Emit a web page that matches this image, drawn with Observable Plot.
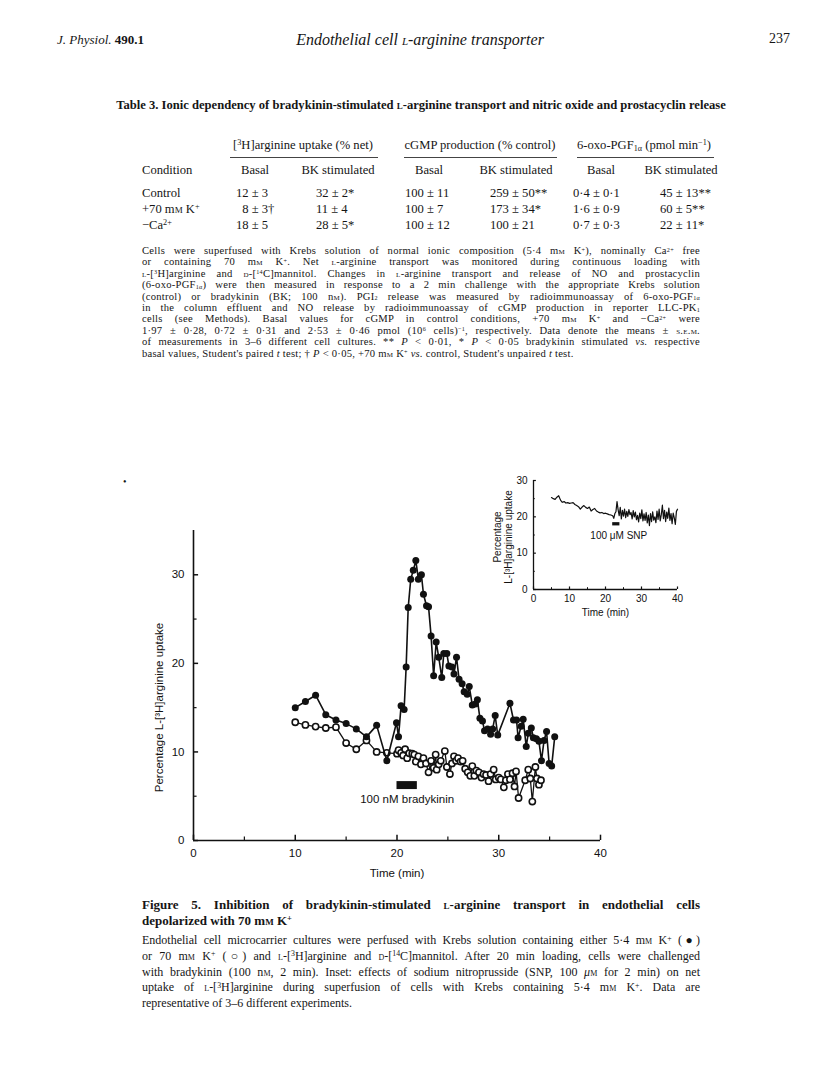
<!DOCTYPE html>
<html><head><meta charset="utf-8">
<script src="https://cdn.jsdelivr.net/npm/d3@7"></script>
<script src="https://cdn.jsdelivr.net/npm/@observablehq/plot@0.6"></script>
<style>
html,body{margin:0;padding:0;background:#fff;}
body{width:816px;height:1088px;position:relative;overflow:hidden;font-family:"Liberation Serif","Times New Roman",serif;color:#151515;}
.abs{position:absolute;white-space:nowrap;}
.sc{font-variant:small-caps;}
sup,sub{font-size:65%;line-height:0;position:relative;vertical-align:baseline;}
sup{top:-0.45em;} sub{top:0.28em;}
.note sub{font-size:58%;top:0.12em;}
.note sup{font-size:58%;top:-0.4em;}
.jl{position:absolute;text-align:justify;text-align-last:justify;white-space:normal;}
.ll{position:absolute;text-align:left;white-space:nowrap;}
.rule{position:absolute;height:0;border-top:1.2px solid #444;}
#main,#inset{position:absolute;}
#main{left:130px;top:520px;}
#inset{left:480px;top:465px;}
</style></head><body>
<div id="page"></div>
<div id="main"></div>
<div id="inset"></div>
<script>
// ---------- Table 3 data ----------
const tableGroups = ["[<sup>3</sup>H]arginine uptake (% net)", "cGMP production (% control)", "6-oxo-PGF<sub>1α</sub> (pmol min<sup>−1</sup>)"];
const tableSubHeaders = ["Basal", "BK stimulated"];
const tableConditions = ["Control", "+70 m<span class='sc'>m</span> K<sup>+</sup>", "−Ca<sup>2+</sup>"];
const uptakeBasal = ["12 ± 3", "\u20078 ± 3†", "18 ± 5"];
const uptakeBK = ["32 ± 2*", "11 ± 4", "28 ± 5*"];
const cgmpBasal = ["100 ± 11", "100 ± 7", "100 ± 12"];
const cgmpBK = ["259 ± 50**", "173 ± 34*", "100 ± 21"];
const pgfBasal = ["0·4 ± 0·1", "1·6 ± 0·9", "0·7 ± 0·3"];
const pgfBK = ["45 ± 13**", "60 ± 5**", "22 ± 11*"];

// ---------- Figure 5 main panel data ----------
// 5.4 mM K+ (filled circles)
const filledTime = [10,11,12,13,14,15,16,17,18,19,19.95,20.15,20.4,20.7,20.9,21.1,21.35,21.6,21.85,22.1,22.4,22.6,22.9,23.1,23.35,23.6,23.85,24.1,24.4,24.6,24.9,25.1,25.4,25.6,25.85,26.1,26.4,26.6,26.9,27.1,27.4,27.7,27.9,28.15,28.4,28.6,28.9,29.2,29.4,29.65,29.9,31.1,31.45,31.75,31.9,32.2,32.4,32.7,32.9,33.2,33.4,33.7,33.95,34.2,34.45,34.7,34.95,35.2,35.5];
const filledUptake = [15.0,15.7,16.4,14.2,13.6,13.2,12.6,11.7,13.0,9.0,13.3,11.7,15.2,14.8,19.6,26.3,29.5,30.5,31.6,29.5,30.0,27.8,26.5,26.4,23.1,18.6,22.4,20.7,18.4,21.1,21.1,19.7,19.6,18.8,20.7,18.2,17.7,16.8,16.5,17.4,15.3,15.4,15.9,13.8,13.5,12.4,12.6,12.0,12.6,14.1,11.9,15.5,13.6,13.6,11.6,12.9,13.7,10.6,12.1,12.7,11.6,11.5,11.2,9.0,11.3,12.3,8.7,8.4,11.7];
// 70 mM K+ (open circles)
const openTime = [10,11,12,13,14,15,16,17,18,19,20,20.15,20.4,20.6,20.8,21,21.2,21.5,21.7,21.85,22.1,22.35,22.6,22.85,23.1,23.35,23.6,23.8,23.9,24.1,24.3,24.7,24.9,25.2,25.4,25.6,25.8,26,26.25,26.45,26.7,26.95,27.2,27.4,27.6,27.8,28.05,28.3,28.5,28.75,29,29.2,29.5,29.7,30,30.2,30.5,30.7,30.9,31.1,31.35,31.55,31.7,31.95,32.6,32.9,33.1,33.3,33.6,33.75,33.95,34.15];
const openUptake = [13.35,13.05,12.86,12.7,12.8,11.0,10.3,11.3,10.0,9.9,9.8,10.2,9.9,9.6,10.3,9.3,9.85,9.8,9.7,8.9,9.5,8.6,9.3,8.7,7.7,9.0,8.2,9.7,8.0,8.6,9.0,10.1,8.3,7.5,8.7,9.5,9.0,9.3,8.9,9.0,8.1,7.7,7.3,8.4,7.3,7.9,7.7,7.1,7.5,7.4,6.7,7.5,8.0,6.9,7.1,6.9,6.0,6.8,7.5,6.9,7.6,6.1,7.8,4.8,6.8,8.0,7.0,4.4,8.3,7.0,6.3,6.8];
const mainXTicks = [0,10,20,30,40];
const mainXMinor = [5,15,25,35];
const mainYTicks = [0,10,20,30];
const mainYMinor = [5,15,25];
const bkPeriod = [{start: 20, end: 22, low: 5.75, high: 6.65}];
const bkLabel = ["100 nM bradykinin"];
const mainYLabel = ["Percentage L-[³H]arginine uptake"];

// ---------- Inset (SNP) data ----------
const insetTime = [5,5.5,6,6.5,7,7.5,8,8.5,9,9.5,10,10.5,11,11.5,12,12.5,13,13.5,14,14.5,15,15.5,16,16.5,17,17.5,18,18.5,19,19.5,20,20.5,21,21.5,22,22.3,22.6,22.9,23.2,23.5,23.8,24.1,24.4,24.7,25.0,25.3,25.6,25.9,26.2,26.5,26.8,27.1,27.4,27.7,28.0,28.3,28.6,28.9,29.2,29.5,29.8,30.1,30.4,30.7,31.0,31.3,31.6,31.9,32.2,32.5,32.8,33.1,33.4,33.7,34.0,34.3,34.6,34.9,35.2,35.5,35.8,36.1,36.4,36.7,37.0,37.3,37.6,37.9,38.2,38.5,38.8,39.1,39.4,39.7,40.0];
const insetUptake = [25.3,25.0,24.8,25.4,25.8,24.6,24.0,24.2,23.8,23.9,23.7,23.8,23.9,23.4,23.1,22.8,22.1,22.7,23.1,22.6,22.3,22.7,21.6,22.0,22.3,21.6,21.3,21.1,21.2,20.9,21.0,20.8,20.6,20.5,20.3,19.6,20.9,21.4,24.2,22.0,20.3,22.6,19.4,21.8,20.2,22.1,19.8,21.5,20.1,22.0,20.6,21.2,19.4,21.7,20.0,21.3,19.2,20.4,18.6,21.0,19.5,21.9,18.9,20.8,19.0,21.2,18.3,20.5,17.6,20.9,18.7,21.4,19.1,20.0,18.4,21.6,19.3,22.1,18.9,20.6,23.2,19.5,21.8,18.7,21.3,19.6,22.4,19.0,20.9,18.1,21.0,19.7,17.9,21.5,22.1];
const insetXTicks = [0,10,20,30,40];
const insetXMinor = [5,15,25,35];
const insetYTicks = [0,10,20,30];
const insetYMinor = [5,15,25];
const snpPeriod = [{start: 22, end: 24, low: 17.5, high: 18.4}];
const snpLabel = ["100 μM SNP"];
const insetYLabel = ["Percentage", "L-[³H]arginine uptake"];

// ---------- page text ----------
const page = document.getElementById("page");
function add(html, cls, style) {
  const d = document.createElement("div");
  d.className = cls; d.innerHTML = html;
  Object.assign(d.style, style);
  page.appendChild(d);
  return d;
}
// running head
add("<i>J. Physiol.</i> <b>490.1</b>", "abs", {left: "57px", top: "32px", fontSize: "13px"});
add("<i>Endothelial cell <span class='sc'>l</span>-arginine transporter</i>", "abs", {left: "270px", width: "300px", top: "31px", fontSize: "16px", textAlign: "center"});
add("237", "abs", {left: "760px", width: "30px", textAlign: "right", top: "31px", fontSize: "14px"});

// table title
add("<b>Table 3. Ionic dependency of bradykinin-stimulated <span class='sc'>l</span>-arginine transport and nitric oxide and prostacyclin release</b>", "abs", {left: "97px", width: "648px", top: "98px", fontSize: "12.6px", textAlign: "center"});

// group headers
const groupCenters = [303, 480, 644];
const groupRules = [[230, 378], [404, 557], [577, 714]];
tableGroups.forEach((g, i) => {
  add(g, "abs", {left: (groupCenters[i] - 100) + "px", width: "200px", textAlign: "center", top: "138px", fontSize: "12.6px"});
  add("", "rule", {left: groupRules[i][0] + "px", width: (groupRules[i][1] - groupRules[i][0]) + "px", top: "157px"});
});
add("Condition", "abs", {left: "142px", top: "163px", fontSize: "12.6px"});
const subCenters = [[255, 338], [429, 516], [601, 681]];
subCenters.forEach(pair => pair.forEach((c, j) => {
  add(tableSubHeaders[j], "abs", {left: (c - 60) + "px", width: "120px", textAlign: "center", top: "163px", fontSize: "12.6px"});
}));
const rowTops = [186, 202, 218];
const colLefts = [236, 316, 405, 490, 573, 660];
const cols = [uptakeBasal, uptakeBK, cgmpBasal, cgmpBK, pgfBasal, pgfBK];
tableConditions.forEach((c, r) => {
  add(c, "abs", {left: "142px", top: rowTops[r] + "px", fontSize: "12.6px"});
  cols.forEach((col, k) => add(col[r], "abs", {left: colLefts[k] + "px", top: rowTops[r] + "px", fontSize: "12.6px"}));
});

// table footnote
const noteLines = [
  "Cells were superfused with Krebs solution of normal ionic composition (5·4 m<span class='sc'>m</span> K<sup>+</sup>), nominally Ca<sup>2+</sup> free",
  "or containing 70 m<span class='sc'>m</span> K<sup>+</sup>. Net <span class='sc'>l</span>-arginine transport was monitored during continuous loading with",
  "<span class='sc'>l</span>-[<sup>3</sup>H]arginine and <span class='sc'>d</span>-[<sup>14</sup>C]mannitol. Changes in <span class='sc'>l</span>-arginine transport and release of NO and prostacyclin",
  "(6-oxo-PGF<sub>1α</sub>) were then measured in response to a 2 min challenge with the appropriate Krebs solution",
  "(control) or bradykinin (BK; 100 n<span class='sc'>m</span>). PGI<sub>2</sub> release was measured by radioimmunoassay of 6-oxo-PGF<sub>1α</sub>",
  "in the column effluent and NO release by radioimmunoassay of cGMP production in reporter LLC-PK<sub>1</sub>",
  "cells (see Methods). Basal values for cGMP in control conditions, +70 m<span class='sc'>m</span> K<sup>+</sup> and −Ca<sup>2+</sup> were",
  "1·97 ± 0·28, 0·72 ± 0·31 and 2·53 ± 0·46 pmol (10<sup>6</sup> cells)<sup>−1</sup>, respectively. Data denote the means ± <span class='sc'>s.e.m.</span>",
  "of measurements in 3–6 different cell cultures. ** <i>P</i> &lt; 0·01, * <i>P</i> &lt; 0·05 bradykinin stimulated <i>vs.</i> respective",
  "basal values, Student's paired <i>t</i> test; † <i>P</i> &lt; 0·05, +70 m<span class='sc'>m</span> K<sup>+</sup> <i>vs.</i> control, Student's unpaired <i>t</i> test."
];
noteLines.forEach((l, i) => {
  const last = i === noteLines.length - 1;
  add(l, (last ? "ll" : "jl") + " note", {left: "142px", width: "558px", top: (245 + i * 11.4) + "px", fontSize: "10.6px", lineHeight: "11px", letterSpacing: "0.25px"});
});

// stray dot
add("•", "abs", {left: "123px", top: "476px", fontSize: "10px"});

// figure caption
add("<b>Figure 5. Inhibition of bradykinin-stimulated <span class='sc'>l</span>-arginine transport in endothelial cells</b>", "jl", {left: "142px", width: "558px", top: "897px", fontSize: "13px", lineHeight: "15px"});
add("<b>depolarized with 70 m<span class='sc'>m</span> K<sup>+</sup></b>", "ll", {left: "142px", top: "913px", fontSize: "13px", lineHeight: "15px"});
const capLines = [
  "Endothelial cell microcarrier cultures were perfused with Krebs solution containing either 5·4 m<span class='sc'>m</span> K<sup>+</sup> (●)",
  "or 70 m<span class='sc'>m</span> K<sup>+</sup> (○) and <span class='sc'>l</span>-[<sup>3</sup>H]arginine and <span class='sc'>d</span>-[<sup>14</sup>C]mannitol. After 20 min loading, cells were challenged",
  "with bradykinin (100 n<span class='sc'>m</span>, 2 min). Inset: effects of sodium nitroprusside (SNP, 100 <i>μ</i><span class='sc'>m</span> for 2 min) on net",
  "uptake of <span class='sc'>l</span>-[<sup>3</sup>H]arginine during superfusion of cells with Krebs containing 5·4 m<span class='sc'>m</span> K<sup>+</sup>. Data are",
  "representative of 3–6 different experiments."
];
capLines.forEach((l, i) => {
  const last = i === capLines.length - 1;
  add(l, last ? "ll" : "jl", {left: "142px", width: "558px", top: (933 + i * 15.8) + "px", fontSize: "12px", lineHeight: "14px"});
});

// ---------- main chart ----------
const sans = "'Liberation Sans', Arial, Helvetica, sans-serif";
const mainChart = Plot.plot({
  width: 490, height: 370,
  marginLeft: 63, marginRight: 20, marginTop: 10, marginBottom: 50,
  x: {domain: [0, 40]},
  y: {domain: [0, 35]},
  style: {fontFamily: sans, fontSize: "11.5px", color: "#111", background: "transparent", overflow: "visible"},
  marks: [
    Plot.ruleY([0], {x1: 0, x2: 40, strokeWidth: 1.6, stroke: "#111"}),
    Plot.ruleX([0], {y1: 0, y2: 35, strokeWidth: 1.6, stroke: "#111"}),
    Plot.ruleX(mainXTicks, {y1: 0, y2: 0.6, strokeWidth: 1.5, stroke: "#111"}),
    Plot.ruleX(mainXMinor, {y1: 0, y2: 0.4, strokeWidth: 1.2, stroke: "#111"}),
    Plot.ruleY(mainYTicks, {x1: 0, x2: 0.5, strokeWidth: 1.5, stroke: "#111"}),
    Plot.ruleY(mainYMinor, {x1: 0, x2: 0.35, strokeWidth: 1.2, stroke: "#111"}),
    Plot.axisX({ticks: mainXTicks, tickSize: 0, tickPadding: 8, label: "Time (min)", labelAnchor: "center", labelArrow: "none", labelOffset: 36}),
    Plot.axisY({ticks: mainYTicks, tickSize: 0, tickPadding: 9, label: null}),
    Plot.text(mainYLabel, {text: d => d, frameAnchor: "left", textAnchor: "middle", rotate: -90, dx: -34, dy: 22, fontSize: 11.5, fill: "#111"}),
    Plot.rect(bkPeriod, {x1: "start", x2: "end", y1: "low", y2: "high", fill: "#111"}),
    Plot.text(bkLabel, {text: d => d, x: 21, y: 4.6, fontSize: 11.5, fill: "#111"}),
    Plot.line(openUptake, {x: openTime, y: openUptake, stroke: "#111", strokeWidth: 1.3}),
    Plot.dot(openUptake, {x: openTime, y: openUptake, r: 3.1, fill: "white", stroke: "#111", strokeWidth: 1.6}),
    Plot.line(filledUptake, {x: filledTime, y: filledUptake, stroke: "#111", strokeWidth: 1.6}),
    Plot.dot(filledUptake, {x: filledTime, y: filledUptake, r: 3.5, fill: "#111", stroke: "none"})
  ]
});
document.getElementById("main").appendChild(mainChart);

// ---------- inset ----------
const insetChart = Plot.plot({
  width: 210, height: 160,
  marginLeft: 53, marginRight: 13, marginTop: 15, marginBottom: 36,
  x: {domain: [0, 40]},
  y: {domain: [0, 30]},
  style: {fontFamily: sans, fontSize: "10px", color: "#111", background: "transparent", overflow: "visible"},
  marks: [
    Plot.ruleY([0], {x1: 0, x2: 40, strokeWidth: 1.3, stroke: "#111"}),
    Plot.ruleX([0], {y1: 0, y2: 30, strokeWidth: 1.3, stroke: "#111"}),
    Plot.ruleX(insetXTicks, {y1: 0, y2: 0.7, strokeWidth: 1.2, stroke: "#111"}),
    Plot.ruleX(insetXMinor, {y1: 0, y2: 0.5, strokeWidth: 1, stroke: "#111"}),
    Plot.ruleY(insetYTicks, {x1: 0, x2: 0.8, strokeWidth: 1.2, stroke: "#111"}),
    Plot.ruleY(insetYMinor, {x1: 0, x2: 0.5, strokeWidth: 1, stroke: "#111"}),
    Plot.axisX({ticks: insetXTicks, tickSize: 0, tickPadding: 5, label: "Time (min)", labelAnchor: "center", labelArrow: "none", labelOffset: 26}),
    Plot.axisY({ticks: insetYTicks, tickSize: 0, tickPadding: 6, label: null}),
    Plot.text(insetYLabel, {filter: (d, i) => i === 0, text: d => d, frameAnchor: "left", textAnchor: "middle", rotate: -90, dx: -36, dy: 2, fontSize: 10, fill: "#111"}),
    Plot.text(insetYLabel, {filter: (d, i) => i === 1, text: d => d, frameAnchor: "left", textAnchor: "middle", rotate: -90, dx: -25, dy: 2, fontSize: 10, fill: "#111"}),
    Plot.rect(snpPeriod, {x1: "start", x2: "end", y1: "low", y2: "high", fill: "#111"}),
    Plot.text(snpLabel, {text: d => d, x: 23.7, y: 14.9, fontSize: 10, fill: "#111"}),
    Plot.line(insetUptake, {x: insetTime, y: insetUptake, stroke: "#111", strokeWidth: 1.2})
  ]
});
document.getElementById("inset").appendChild(insetChart);
</script>
</body></html>
